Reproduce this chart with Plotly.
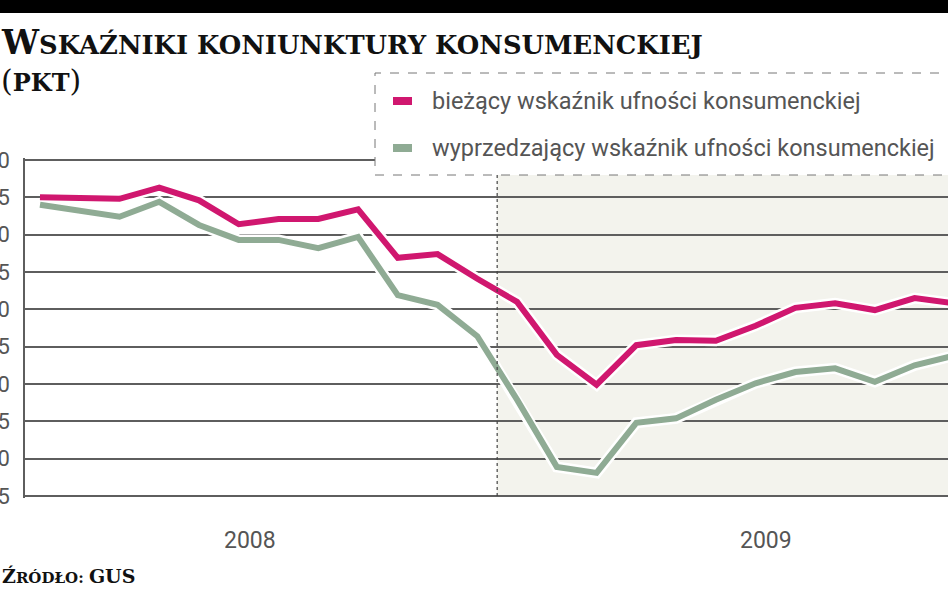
import plotly.graph_objects as go

# ---------------- data ----------------
months = ["2008-01", "2008-02", "2008-03", "2008-04", "2008-05", "2008-06",
          "2008-07", "2008-08", "2008-09", "2008-10", "2008-11", "2008-12",
          "2009-01", "2009-02", "2009-03", "2009-04", "2009-05", "2009-06",
          "2009-07", "2009-08", "2009-09", "2009-10", "2009-11", "2009-12"]
biezacy = [-5.0, -5.1, -5.2, -3.7, -5.4, -8.6, -7.9, -7.9, -6.6, -13.1, -12.6, -15.9,
           -19.0, -26.1, -30.1, -24.8, -24.1, -24.2, -22.2, -19.8, -19.2, -20.1, -18.5, -19.2]
wyprzedzajacy = [-6.0, -6.9, -7.6, -5.6, -8.7, -10.7, -10.7, -11.8, -10.3, -18.1, -19.4, -23.6,
                 -32.1, -41.1, -41.9, -35.2, -34.6, -32.1, -29.9, -28.4, -27.9, -29.7, -27.5, -26.2]
year_labels = ["2008", "2009"]
y_ticks = [0, -5, -10, -15, -20, -25, -30, -35, -40, -45]
series_names = ["bieżący wskaźnik ufności konsumenckiej",
                "wyprzedzający wskaźnik ufności konsumenckiej"]

# ---------------- styling ----------------
W, H = 948, 593
ML, MR, MT, MB = 25, 0, 158, 95
PINK = "#d0176f"
GREEN = "#8fab94"
GRID = "#5e5e5e"
TXT = "#555555"
LABEL_FONT = "Roboto, 'Open Sans', sans-serif"
SERIF = "'DejaVu Serif', serif"

plot_w = W - ML - MR
plot_h = H - MT - MB


def fx(px):
    return (px - ML) / plot_w


def fy(py):
    return (H - MB - py) / plot_h


x_idx = list(range(len(months)))

fig = go.Figure()
for vals in [biezacy, wyprzedzajacy]:
    fig.add_trace(go.Scatter(x=x_idx, y=vals, mode="lines",
                             line=dict(color="white", width=11),
                             hoverinfo="skip", showlegend=False))
for vals, col, name in [(biezacy, PINK, series_names[0]),
                        (wyprzedzajacy, GREEN, series_names[1])]:
    fig.add_trace(go.Scatter(x=x_idx, y=vals, mode="lines", name=name,
                             text=months, hovertemplate="%{text}: %{y}<extra></extra>",
                             line=dict(color=col, width=6), showlegend=False))

shapes = []
# shaded 2009 region
shapes.append(dict(type="rect", xref="x", yref="y", x0=11.5, x1=30, y0=-45, y1=-2.0,
                   fillcolor="#f3f3ed", line=dict(width=0), layer="below"))
shapes.append(dict(type="line", xref="x", yref="y", x0=11.5, x1=11.5, y0=-45, y1=-2.0,
                   line=dict(color="#444444", width=1.2, dash="dot"), layer="above"))
# legend box
shapes.append(dict(type="rect", xref="paper", yref="paper",
                   x0=fx(375), x1=fx(975), y0=fy(175), y1=fy(73),
                   fillcolor="white", line=dict(color="#777777", width=1, dash="dash"),
                   layer="above"))
for py, col in [(101, PINK), (148, GREEN)]:
    shapes.append(dict(type="line", xref="paper", yref="paper",
                       x0=fx(393), x1=fx(412), y0=fy(py), y1=fy(py),
                       line=dict(color=col, width=8), layer="above"))
# top black band
shapes.append(dict(type="rect", xref="paper", yref="paper",
                   x0=fx(-20), x1=fx(980), y0=fy(13), y1=fy(-10),
                   fillcolor="black", line=dict(width=0), layer="above"))

annotations = []
for name, py in zip(series_names, [101, 148]):
    annotations.append(dict(xref="paper", yref="paper", x=fx(430), y=fy(py),
                            xanchor="left", yanchor="middle", showarrow=False,
                            text=name, font=dict(family=LABEL_FONT, size=23.5, color=TXT)))
# year labels
for lab, xpos in zip(year_labels, [5.28, 18.26]):
    annotations.append(dict(xref="x", yref="paper", x=xpos, y=fy(540),
                            xanchor="center", yanchor="middle", showarrow=False,
                            text=lab, font=dict(family=LABEL_FONT, size=23, color=TXT)))
# title
annotations.append(dict(xref="paper", yref="paper", x=fx(-1), y=fy(42),
                        xanchor="left", yanchor="middle", showarrow=False,
                        text="<b><span style='font-size:33px'>W</span>SKAŹNIKI KONIUNKTURY KONSUMENCKIEJ</b>",
                        font=dict(family=SERIF, size=25.8, color="#111111")))
annotations.append(dict(xref="paper", yref="paper", x=fx(-1), y=fy(81),
                        xanchor="left", yanchor="middle", showarrow=False,
                        text="<span style='font-size:30px'>(</span><b>PKT</b><span style='font-size:30px'>)</span>",
                        font=dict(family=SERIF, size=24, color="#111111")))
annotations.append(dict(xref="paper", yref="paper", x=fx(0), y=fy(576),
                        xanchor="left", yanchor="middle", showarrow=False,
                        text="<b><span style='font-size:19px'>Ź</span>RÓDŁO: <span style='font-size:19px'>GUS</span></b>",
                        font=dict(family=SERIF, size=15, color="#111111")))

fig.update_layout(
    template="none",
    width=W, height=H,
    margin=dict(l=ML, r=MR, t=MT, b=MB, autoexpand=False),
    paper_bgcolor="white", plot_bgcolor="white",
    showlegend=False,
    shapes=shapes, annotations=annotations,
    xaxis=dict(range=[-0.377, 22.84], showgrid=False, zeroline=False, automargin=False,
               showticklabels=False, showline=False, fixedrange=True),
    yaxis=dict(range=[-45.268, 0.268], tickvals=y_ticks, showgrid=True, automargin=False,
               gridcolor=GRID, gridwidth=1.5, zeroline=False,
               showline=True, linecolor=GRID, linewidth=1.5,
               ticks="", ticklabelstandoff=9,
               tickfont=dict(family=LABEL_FONT, size=22, color=TXT), fixedrange=True),
)

fig.write_html("out.html", config={"displayModeBar": False},
               post_script="document.body.style.margin='0';document.body.style.overflow='hidden';")
